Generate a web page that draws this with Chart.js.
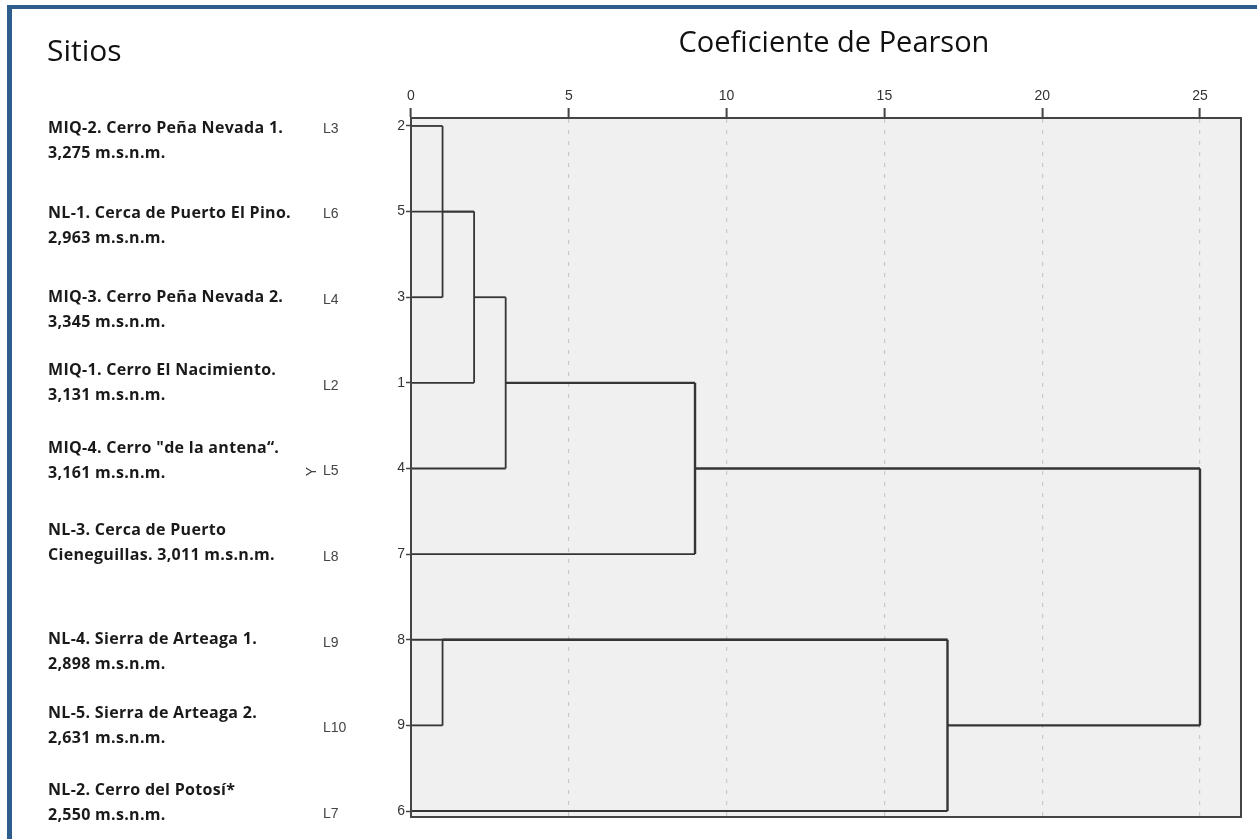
<!DOCTYPE html>
<html>
<head>
<meta charset="utf-8">
<script src="https://cdn.jsdelivr.net/npm/chart.js@4.4.1/dist/chart.umd.min.js"></script>
<style>
  html, body { margin: 0; padding: 0; background: #fff; }
  #wrap { position: relative; width: 1257px; height: 839px; overflow: hidden; }
  #frame {
    position: absolute; left: 7px; top: 5px; width: 1300px; height: 900px;
    border-left: 5px solid #2c5d8c; border-top: 4px solid #2c5d8c;
    pointer-events: none;
  }
</style>
</head>
<body>
<div id="wrap">
  <canvas id="dendro" width="1257" height="839"></canvas>
  <div id="frame"></div>
</div>
<script>
// Leaves in the order they are drawn, top to bottom
const leafIds = ["2", "5", "3", "1", "4", "7", "8", "9", "6"];
const leafCodes = ["L3", "L6", "L4", "L2", "L5", "L8", "L9", "L10", "L7"];
const siteLine1 = [
  "MIQ-2. Cerro Peña Nevada 1.",
  "NL-1. Cerca de Puerto El Pino.",
  "MIQ-3. Cerro Peña Nevada 2.",
  "MIQ-1. Cerro El Nacimiento.",
  "MIQ-4. Cerro \"de la antena“.",
  "NL-3. Cerca de Puerto",
  "NL-4. Sierra de Arteaga 1.",
  "NL-5. Sierra de Arteaga 2.",
  "NL-2. Cerro del Potosí*"
];
const siteLine2 = [
  "3,275 m.s.n.m.",
  "2,963 m.s.n.m.",
  "3,345 m.s.n.m.",
  "3,131 m.s.n.m.",
  "3,161 m.s.n.m.",
  "Cieneguillas. 3,011 m.s.n.m.",
  "2,898 m.s.n.m.",
  "2,631 m.s.n.m.",
  "2,550 m.s.n.m."
];

// Rescaled distance at which each leaf first joins a cluster
const leafJoin = [1, 2, 1, 2, 3, 9, 17, 1, 17];

// Merges: rows joined by the vertical link, the link distance,
// the row the new cluster sits on and the distance of its next merge
const mergeTop = [0, 1, 2, 3, 6, 6, 4];
const mergeBottom = [2, 3, 4, 5, 7, 8, 7];
const mergeDist = [1, 2, 3, 9, 1, 17, 25];
const mergeRow = [1, 2, 3, 4, 6, 7, null];
const mergeNext = [2, 3, 9, 25, 17, 25, null];

const xTicks = [0, 5, 10, 15, 20, 25];

// Build line segments
const lineColor = "#353535";
const datasets = [];

function addSegment(x1, y1, x2, y2, width) {
  datasets.push({
    data: [{ x: x1, y: y1 }, { x: x2, y: y2 }],
    showLine: true,
    borderColor: lineColor,
    borderWidth: width,
    pointRadius: 0,
    pointHoverRadius: 0,
  });
}

leafIds.forEach((id, i) => {
  addSegment(0, i, leafJoin[i], i, 1.8);
});

mergeDist.forEach((d, k) => {
  const w = d >= 9 ? 2.4 : 1.8;
  addSegment(d, mergeTop[k], d, mergeBottom[k], w);
  if (mergeRow[k] !== null) {
    addSegment(d, mergeRow[k], mergeNext[k], mergeRow[k], mergeNext[k] >= 9 ? 2.4 : 1.8);
  }
});

// Background, frame and side texts
const sidePanel = {
  id: "sidePanel",
  beforeDraw(chart) {
    const { ctx, chartArea: a } = chart;
    ctx.save();
    ctx.fillStyle = "#f0f0f0";
    ctx.fillRect(a.left, a.top, a.right - a.left, a.bottom - a.top);
    ctx.restore();
  },
  afterDraw(chart) {
    const { ctx, chartArea: a } = chart;
    const yScale = chart.scales.y;

    ctx.save();
    ctx.strokeStyle = "#444";
    ctx.lineWidth = 2;
    ctx.strokeRect(a.left, a.top, a.right - a.left, a.bottom - a.top);

    // titles
    ctx.fillStyle = "#111";
    ctx.textBaseline = "middle";
    ctx.textAlign = "left";
    ctx.font = "30px 'Open Sans'";
    ctx.fillText("Sitios", 47, 52);
    ctx.textAlign = "center";
    ctx.font = "29px 'Open Sans'";
    ctx.fillText("Coeficiente de Pearson", 834, 44);

    // site names (two lines each) and codes
    const nameShift = [2, 2, 0, -12, -20, -24, 0, -12, -21];
    ctx.textAlign = "left";
    leafIds.forEach((id, i) => {
      const yRow = yScale.getPixelForValue(i);
      const y1 = yRow + nameShift[i];
      ctx.fillStyle = "#1a1a1a";
      ctx.font = "bold 16px 'Open Sans'";
      ctx.letterSpacing = "0.3px";
      ctx.fillText(siteLine1[i], 48, y1);
      ctx.fillText(siteLine2[i], 48, y1 + 25);
      ctx.letterSpacing = "0px";

      ctx.fillStyle = "#444";
      ctx.font = "14px 'Liberation Sans'";
      ctx.fillText(leafCodes[i], 323, yRow + 3);
    });

    // rotated variable label next to L5
    const yMid = yScale.getPixelForValue(4) + 3;
    ctx.translate(312, yMid);
    ctx.rotate(-Math.PI / 2);
    ctx.textAlign = "center";
    ctx.fillStyle = "#444";
    ctx.font = "14px 'Liberation Sans'";
    ctx.fillText("Y", 0, 0);
    ctx.restore();
  }
};

const tickFont = { family: "'Liberation Sans', Arial, sans-serif", size: 14 };

new Chart(document.getElementById("dendro"), {
  type: "scatter",
  data: { datasets },
  options: {
    responsive: false,
    animation: false,
    layout: { padding: { left: 381, top: 78, right: 16, bottom: 22 } },
    plugins: {
      legend: { display: false },
      tooltip: { enabled: false },
    },
    scales: {
      x: {
        type: "linear",
        position: "top",
        min: 0,
        max: 26.3,
        afterBuildTicks: (scale) => {
          scale.ticks = xTicks.map((v) => ({ value: v }));
        },
        afterFit: (scale) => {
          scale.height = 40;
        },
        ticks: { color: "#333", font: tickFont, padding: 3, maxRotation: 0 },
        grid: {
          color: (c) => (c.tick && c.tick.value === 0 ? "rgba(0,0,0,0)" : "#c9c9c9"),
          lineWidth: 1.2,
          tickColor: "#444",
          tickLength: 10,
          tickWidth: 2,
          tickBorderDash: [],
        },
        border: { display: true, color: "#444", width: 2, dash: [4, 7] },
      },
      y: {
        type: "linear",
        reverse: true,
        min: -0.093,
        max: 8.07,
        afterBuildTicks: (scale) => {
          scale.ticks = leafIds.map((_, i) => ({ value: i }));
        },
        afterFit: (scale) => {
          scale.width = 30;
        },
        ticks: {
          color: "#333",
          font: tickFont,
          padding: 1,
          callback: (v) => leafIds[Math.round(v)],
        },
        grid: {
          drawOnChartArea: false,
          tickColor: "#444",
          tickLength: 5,
          tickWidth: 1.5,
        },
        border: { display: true, color: "#444", width: 2 },
      },
    },
  },
  plugins: [sidePanel],
});
</script>
</body>
</html>
